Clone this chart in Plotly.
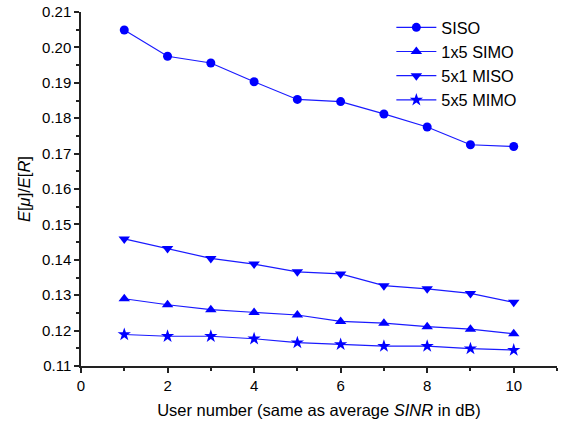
import plotly.graph_objects as go

users = [1, 2, 3, 4, 5, 6, 7, 8, 9, 10]
siso = [0.2049, 0.1975, 0.1956, 0.1903, 0.1853, 0.1847, 0.1812, 0.1775, 0.1725, 0.1720]
simo_1x5 = [0.1290, 0.1273, 0.1259, 0.1251, 0.1244, 0.1226, 0.1221, 0.1211, 0.1204, 0.1191]
miso_5x1 = [0.1459, 0.1432, 0.1404, 0.1388, 0.1366, 0.1360, 0.1327, 0.1318, 0.1305, 0.1280]
mimo_5x5 = [0.1189, 0.1184, 0.1184, 0.1177, 0.1166, 0.1161, 0.1156, 0.1156, 0.1149, 0.1145]

series = [
    ("SISO", siso, "circle", 9),
    ("1x5 SIMO", simo_1x5, "triangle-up", 10),
    ("5x1 MISO", miso_5x1, "triangle-down", 10),
    ("5x5 MIMO", mimo_5x5, "star", 10),
]

fig = go.Figure()
for name, vals, sym, sz in series:
    fig.add_trace(go.Scatter(
        x=users, y=vals, name=name, mode="lines+markers",
        line=dict(color="#1a1aff", width=1.2),
        marker=dict(symbol=sym, size=sz, color="#0000ff", line=dict(width=0)),
    ))

font = "Liberation Sans, Arial, sans-serif"
axcol = "#222"
fig.update_layout(
    width=569, height=425,
    margin=dict(l=81, r=12, t=10, b=59),
    paper_bgcolor="white", plot_bgcolor="white",
    font=dict(family=font, size=15, color="black"),
    showlegend=True,
    legend=dict(x=0.652, y=1.005, xanchor="left", yanchor="top",
                bgcolor="rgba(0,0,0,0)", font=dict(size=16.3),
                tracegroupgap=0, itemwidth=40),
    xaxis=dict(
        range=[0, 11], dtick=2, tick0=0, automargin=False,
        showline=True, linecolor=axcol, linewidth=1.5,
        ticks="outside", ticklen=5, tickwidth=1.5, tickcolor=axcol,
        minor=dict(dtick=1, ticks="outside", ticklen=3, tickwidth=1.5, tickcolor=axcol),
        showgrid=False, zeroline=False,
        tickfont=dict(size=15),
        title=dict(text="User number (same as average <i>SINR</i> in dB)",
                   font=dict(size=16.5), standoff=12),
    ),
    yaxis=dict(
        range=[0.11, 0.21], dtick=0.01, tick0=0.11, tickformat=".2f", automargin=False,
        ticklabeloverflow="allow",
        showline=True, linecolor=axcol, linewidth=1.5,
        ticks="outside", ticklen=5, tickwidth=1.5, tickcolor=axcol,
        minor=dict(dtick=0.005, ticks="outside", ticklen=3, tickwidth=1.5, tickcolor=axcol),
        showgrid=False, zeroline=False,
        tickfont=dict(size=15),
        title=dict(text="<i>E</i>[<i>μ</i>]/<i>E</i>[<i>R</i>]",
                   font=dict(size=16.5), standoff=7),
    ),
)

fig.write_html("out.html", config={"displayModeBar": False},
               post_script="document.body.style.margin='0';")
